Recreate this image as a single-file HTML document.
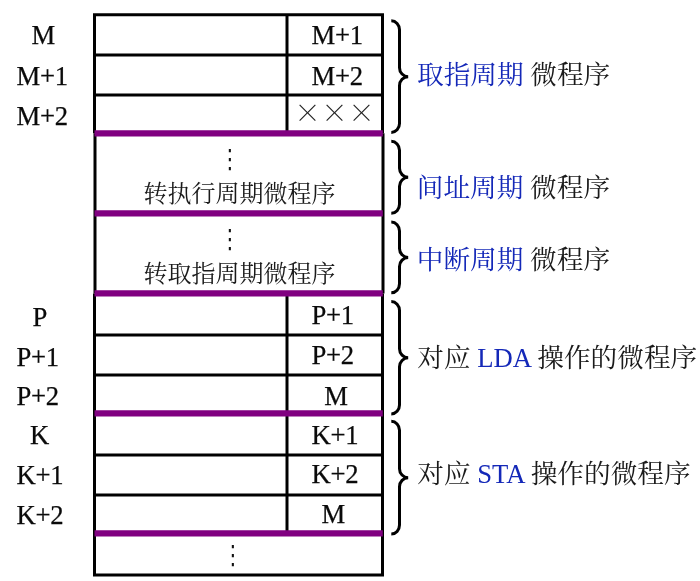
<!DOCTYPE html>
<html>
<head>
<meta charset="utf-8">
<title>微程序</title>
<style>
html,body{margin:0;padding:0;background:#fff;}
body{width:700px;height:581px;overflow:hidden;position:relative;}
svg{position:absolute;left:0;top:0;display:block;will-change:transform;}
.lat{font-family:"Liberation Serif","Noto Serif CJK SC",serif;font-size:26.67px;letter-spacing:-0.3px;fill:#0a0a0a;stroke:#0a0a0a;stroke-width:0.25px;}
.cjk{font-family:"Liberation Serif","Noto Serif CJK SC",serif;font-size:24px;font-weight:400;fill:#1a1a1a;}
.lab{font-family:"Liberation Serif","Noto Serif CJK SC",serif;font-size:26.67px;font-weight:400;fill:#1a1a1a;}
.blue{fill:#1428b8;}
.x{font-family:"Noto Serif CJK SC","Liberation Serif",serif;font-size:27px;font-weight:300;fill:#222;}
.dots{font-family:"DejaVu Sans","Liberation Serif",sans-serif;font-size:26.2px;fill:#111;}
</style>
</head>
<body>
<svg width="700" height="581" viewBox="0 0 700 581" xmlns="http://www.w3.org/2000/svg">
  <!-- grid -->
  <g stroke="#000" stroke-width="3" fill="none">
    <path d="M94.5 133.3 V14.7 H382.5 V133.3"/>
    <path d="M95 133.3 V293.4 M383 133.3 V293.4"/>
    <path d="M94.5 293.4 V575.1 H382.5 V293.4"/>
    <line x1="94" y1="54.9" x2="383" y2="54.9"/>
    <line x1="94" y1="94.9" x2="383" y2="94.9"/>
    <line x1="94" y1="334.9" x2="383" y2="334.9"/>
    <line x1="94" y1="374.9" x2="383" y2="374.9"/>
    <line x1="94" y1="454.9" x2="383" y2="454.9"/>
    <line x1="94" y1="494.9" x2="383" y2="494.9"/>
    <line x1="287" y1="14" x2="287" y2="133"/>
    <line x1="287" y1="294" x2="287" y2="533"/>
  </g>
  <g stroke="#800080" stroke-width="6.1" fill="none">
    <line x1="94.5" y1="133.35" x2="382.8" y2="133.35"/>
    <line x1="94.5" y1="213.35" x2="382.8" y2="213.35"/>
    <line x1="94.5" y1="293.35" x2="382.8" y2="293.35"/>
    <line x1="94.5" y1="413.35" x2="382.8" y2="413.35"/>
    <line x1="94.5" y1="533.35" x2="382.8" y2="533.35"/>
  </g>
  <!-- braces -->
  <g stroke="#000" stroke-width="3" fill="none" stroke-linecap="butt" stroke-linejoin="miter">
    <path d="M391.3 20.8 A8.2 9 0 0 1 399.5 29.8 L399.5 67.65 A8.7 9 0 0 0 408.2 76.65 A8.7 9 0 0 0 399.5 85.65 L399.5 123.5 A8.2 9 0 0 1 391.3 132.5"/>
    <path d="M391.3 141.3 A8.2 9 0 0 1 399.5 150.3 L399.5 168.3 A8.7 9 0 0 0 408.2 177.3 A8.7 9 0 0 0 399.5 186.3 L399.5 204.3 A8.2 9 0 0 1 391.3 213.3"/>
    <path d="M391.3 222.1 A8.2 9 0 0 1 399.5 231.1 L399.5 248.45 A8.7 9 0 0 0 408.2 257.45 A8.7 9 0 0 0 399.5 266.45 L399.5 283.8 A8.2 9 0 0 1 391.3 292.8"/>
    <path d="M391.3 301.6 A8.2 9 0 0 1 399.5 310.6 L399.5 348.8 A8.7 9 0 0 0 408.2 357.8 A8.7 9 0 0 0 399.5 366.8 L399.5 405 A8.2 9 0 0 1 391.3 414"/>
    <path d="M391.3 421.3 A8.2 9 0 0 1 399.5 430.3 L399.5 468.7 A8.7 9 0 0 0 408.2 477.7 A8.7 9 0 0 0 399.5 486.7 L399.5 525.1 A8.2 9 0 0 1 391.3 534.1"/>
  </g>
  <!-- left labels -->
  <g class="lat">
    <text x="31.6" y="44.4">M</text>
    <text x="16.5" y="84.8">M+1</text>
    <text x="16.5" y="124.8">M+2</text>
    <text x="32.5" y="326.2">P</text>
    <text x="16.5" y="365.9">P+1</text>
    <text x="16.5" y="404.8">P+2</text>
    <text x="30" y="444.4">K</text>
    <text x="16.5" y="484.4">K+1</text>
    <text x="16.5" y="524.4">K+2</text>
  </g>
  <!-- right cells -->
  <g class="lat">
    <text x="311.6" y="44.4">M+1</text>
    <text x="311.6" y="84.6">M+2</text>
    <text x="311.6" y="324.2">P+1</text>
    <text x="311.6" y="363.5">P+2</text>
    <text x="324.3" y="404.8">M</text>
    <text x="311.6" y="443.5">K+1</text>
    <text x="311.6" y="482.9">K+2</text>
    <text x="321.4" y="523.4">M</text>
  </g>
  <text class="x" x="294" y="123">×××</text>
  <!-- middle text -->
  <text class="cjk" x="143.5" y="202">转执行周期微程序</text>
  <text class="cjk" x="143.5" y="282">转取指周期微程序</text>
  <text class="dots" transform="translate(229.6 168) scale(0.78 1)" text-anchor="middle">⋮</text>
  <text class="dots" transform="translate(229.6 248) scale(0.78 1)" text-anchor="middle">⋮</text>
  <text class="dots" transform="translate(232.75 564) scale(0.78 1)" text-anchor="middle">⋮</text>
  <!-- right labels -->
  <text class="lab" x="417" y="84"><tspan class="blue">取指周期</tspan> 微程序</text>
  <text class="lab" x="416.8" y="196.6"><tspan class="blue">间址周期</tspan> 微程序</text>
  <text class="lab" x="416.8" y="268.8"><tspan class="blue">中断周期</tspan> 微程序</text>
  <text class="lab" x="417.3" y="367">对应 <tspan class="blue">LDA</tspan> 操作的微程序</text>
  <text class="lab" x="417.3" y="483">对应 <tspan class="blue">STA</tspan> 操作的微程序</text>
</svg>
</body>
</html>
